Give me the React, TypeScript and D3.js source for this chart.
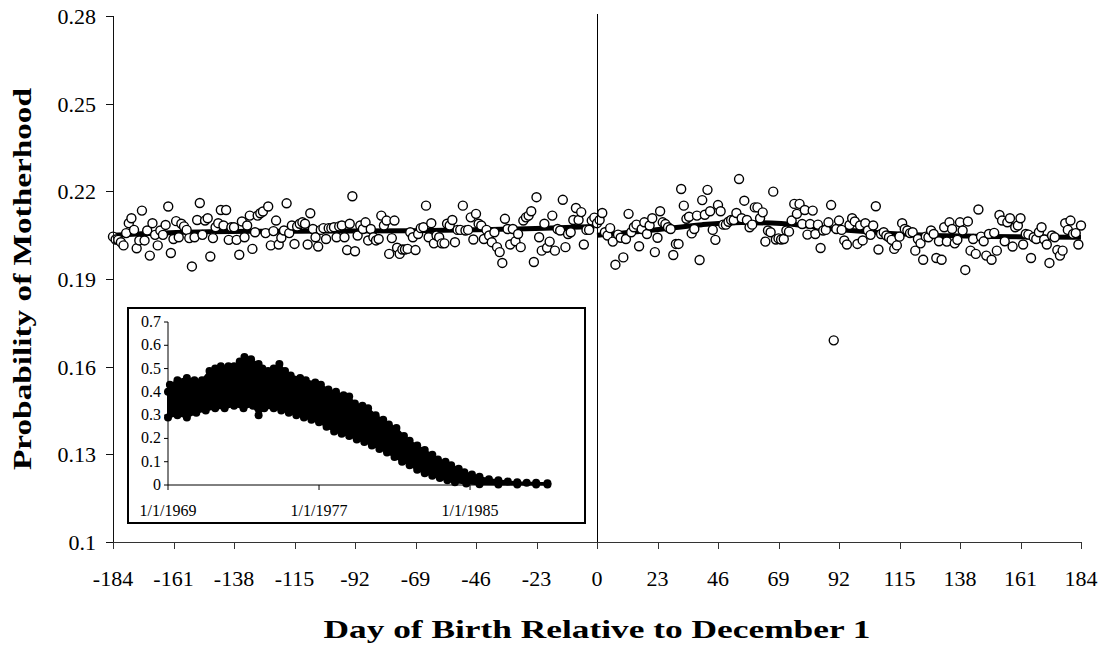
import React from "react";
import * as d3 from "d3";

// daily probability of motherhood, days -184 .. -1
const beforeValues = [
  0.2045, 0.2035,
  0.2034, 0.2026, 0.2015, 0.2057, 0.2091, 0.2108, 0.2068, 0.2005, 0.2032, 0.2134,
  0.2032, 0.2066, 0.198, 0.2091, 0.2051, 0.2015, 0.2066, 0.2051, 0.2085, 0.2148,
  0.1989, 0.2037, 0.2098, 0.2043, 0.2089, 0.208, 0.2068, 0.204, 0.1943, 0.2043,
  0.2102, 0.216, 0.2051, 0.21, 0.2108, 0.1977, 0.204, 0.2077, 0.2091, 0.2136,
  0.2083, 0.2136, 0.2034, 0.2077, 0.2077, 0.2034, 0.1983, 0.2097, 0.2043, 0.2083,
  0.2117, 0.2003, 0.206, 0.2117, 0.2125, 0.2131, 0.2057, 0.2148, 0.2015, 0.2064,
  0.21, 0.2018, 0.2041, 0.2066, 0.2159, 0.2057, 0.2083, 0.202, 0.208, 0.2089,
  0.2094, 0.2089, 0.2018, 0.2125, 0.2071, 0.2043, 0.2011, 0.2068, 0.2074, 0.2037,
  0.2074, 0.2074, 0.2077, 0.2043, 0.208, 0.2083, 0.2043, 0.1999, 0.2089, 0.2183,
  0.1995, 0.2049, 0.2083, 0.2071, 0.2094, 0.2032, 0.2071, 0.2043, 0.2032, 0.2037,
  0.2117, 0.2083, 0.21, 0.1986, 0.204, 0.21, 0.2007, 0.1986, 0.2001, 0.2001,
  0.2003, 0.206, 0.2043, 0.1999, 0.2054, 0.2074, 0.2077, 0.2151, 0.2043, 0.2091,
  0.2022, 0.2049, 0.2043, 0.2022, 0.2022, 0.2089, 0.2083, 0.2102, 0.2026, 0.2068,
  0.2068, 0.2151, 0.2066, 0.2068, 0.2111, 0.2035, 0.2123, 0.2089, 0.2083, 0.2037,
  0.2068, 0.2049, 0.2026, 0.206, 0.2009, 0.1992, 0.1955, 0.2106, 0.2071, 0.2018,
  0.2071, 0.2029, 0.2054, 0.2009, 0.21, 0.2111, 0.2117, 0.2132, 0.1958, 0.218,
  0.2043, 0.1997, 0.2089, 0.2007, 0.2028, 0.2117, 0.1997, 0.2071, 0.2066, 0.2171,
  0.2009, 0.2054, 0.206, 0.2102, 0.2143, 0.2102, 0.2129, 0.2018, 0.2068, 0.2068,
  0.21, 0.211,
];

// daily probability of motherhood, days 0 .. 184
const afterValues = [
  0.2091, 0.2102, 0.2126, 0.206, 0.2049, 0.2074, 0.2028, 0.1949, 0.2052, 0.2041,
  0.1974, 0.2037, 0.2123, 0.206, 0.2077, 0.2086, 0.2012, 0.2071, 0.2094, 0.2054,
  0.2083, 0.2108, 0.1992, 0.2041, 0.2132, 0.2094, 0.2088, 0.2077, 0.2071, 0.1982,
  0.202, 0.202, 0.2208, 0.2151, 0.2106, 0.2113, 0.2056, 0.2071, 0.2117, 0.1965,
  0.217, 0.212, 0.2205, 0.2132, 0.2068, 0.2034, 0.2153, 0.2132, 0.2086, 0.2086,
  0.2096, 0.2102, 0.2102, 0.2126, 0.2242, 0.2108, 0.2168, 0.2102, 0.2077, 0.2086,
  0.2145, 0.2145, 0.2108, 0.2128, 0.2028, 0.2066, 0.206, 0.2199, 0.2035, 0.2039,
  0.2035, 0.2037, 0.2066, 0.2062, 0.21, 0.2157, 0.2123, 0.2157, 0.2088, 0.2136,
  0.2052, 0.2088, 0.2134, 0.2054, 0.2086, 0.2006, 0.2066, 0.2068, 0.2094, 0.2153,
  0.169, 0.2071, 0.21,
  0.2068, 0.2032, 0.2018, 0.2085, 0.2108, 0.2097, 0.202, 0.2083, 0.2032, 0.2091,
  0.2066, 0.2051, 0.2083, 0.2149, 0.2001, 0.2054, 0.206, 0.2049, 0.2043, 0.2034,
  0.2003, 0.2015, 0.2045, 0.2091, 0.2071, 0.2066, 0.2057, 0.206, 0.1997, 0.2037,
  0.2022, 0.1966, 0.2045, 0.2043, 0.2066, 0.2054, 0.1972, 0.2029, 0.1966, 0.2077,
  0.2028, 0.2094, 0.2071, 0.2022, 0.2034, 0.2094, 0.2066, 0.1931, 0.2097, 0.1997,
  0.2037, 0.1986, 0.2138, 0.2045, 0.2029, 0.198, 0.2054, 0.1966, 0.2058, 0.1997,
  0.2119, 0.21, 0.2029, 0.2094, 0.2108, 0.2011, 0.2077, 0.2083, 0.2108, 0.2018,
  0.2054, 0.2052, 0.1972, 0.2043, 0.2037, 0.206, 0.2077, 0.2035, 0.2018, 0.1955,
  0.2049, 0.2043, 0.1999, 0.198, 0.1997, 0.2091, 0.2068, 0.21, 0.2054, 0.2057,
  0.2018, 0.2083,
];

// fitted lines on each side of the cutoff
const trendBeforeDays = [-184, -160, -130, -100, -70, -40, -20, -1];
const trendBeforeValues = [0.205, 0.2059, 0.2063, 0.2064, 0.2065, 0.2069, 0.2074, 0.208];
const trendAfterDays = [0, 20, 40, 55, 70, 90, 110, 140, 184];
const trendAfterValues = [0.205, 0.2066, 0.2086, 0.2093, 0.209, 0.2071, 0.2057, 0.2047, 0.2043];

const xTickValues = [-184, -161, -138, -115, -92, -69, -46, -23, 0, 23, 46, 69, 92, 115, 138, 161, 184];
const yTickValues = [0.1, 0.13, 0.16, 0.19, 0.22, 0.25, 0.28];
const yTickLabels = ["0.1", "0.13", "0.16", "0.19", "0.22", "0.25", "0.28"];

// inset: band of daily values by birth date (upper / lower edge of the cloud)
const insetUpperYears = [
  1969.0, 1969.1, 1969.5, 1970.0, 1970.4, 1970.8, 1971.2, 1971.5, 1971.8, 1972.2, 1972.5,
  1972.8, 1973.05, 1973.4, 1973.8, 1974.0, 1974.3, 1974.6, 1974.9, 1975.2, 1975.5, 1976.0,
  1976.3, 1976.8, 1977.1, 1977.5, 1977.9, 1978.3, 1978.6, 1978.9, 1979.3, 1979.6, 1980.0,
  1980.4, 1980.7, 1981.1, 1981.5, 1981.8, 1982.2, 1982.6, 1983.0, 1983.3, 1983.7, 1984.0,
  1984.4, 1984.7, 1985.1, 1985.5, 1986.0, 1986.5, 1987.0, 1987.5, 1988.0, 1988.5, 1989.1,
];
const insetUpperValues = [
  0.4, 0.43, 0.45, 0.46, 0.45, 0.45, 0.49, 0.5, 0.51, 0.51, 0.51,
  0.53, 0.55, 0.54, 0.52, 0.5, 0.49, 0.5, 0.52, 0.49, 0.47, 0.46,
  0.45, 0.44, 0.43, 0.41, 0.4, 0.385, 0.38, 0.35, 0.34, 0.33, 0.3,
  0.28, 0.26, 0.245, 0.21, 0.19, 0.17, 0.15, 0.13, 0.11, 0.1, 0.085,
  0.07, 0.055, 0.045, 0.035, 0.025, 0.02, 0.015, 0.012, 0.01, 0.01, 0.008,
];
const insetLowerYears = [
  1969.0, 1969.5, 1970.0, 1970.5, 1971.0, 1971.5, 1972.0, 1972.5, 1973.0, 1973.5, 1973.8,
  1974.1, 1974.6, 1975.0, 1975.4, 1975.8, 1976.2, 1976.6, 1977.0, 1977.4, 1977.8, 1978.2,
  1978.6, 1979.0, 1979.4, 1979.8, 1980.2, 1980.6, 1981.0, 1981.4, 1981.8, 1982.2, 1982.6,
  1983.0, 1983.4, 1983.8, 1984.2, 1984.8, 1985.5, 1986.5, 1987.5, 1988.5, 1989.1,
];
const insetLowerValues = [
  0.29, 0.3, 0.29, 0.31, 0.32, 0.33, 0.33, 0.34, 0.33, 0.34, 0.3,
  0.33, 0.33, 0.32, 0.31, 0.3, 0.29, 0.28, 0.27, 0.25, 0.23, 0.22,
  0.21, 0.195, 0.185, 0.17, 0.155, 0.14, 0.12, 0.1, 0.085, 0.065, 0.05,
  0.04, 0.03, 0.02, 0.012, 0.006, 0.003, 0.002, 0.002, 0.002, 0.002,
];
const insetYTicks = [0, 0.1, 0.2, 0.3, 0.4, 0.5, 0.6, 0.7];
const insetXTicks = [1969, 1977, 1985];
const insetXLabels = ["1/1/1969", "1/1/1977", "1/1/1985"];

const FONT = "'Liberation Serif', 'Times New Roman', serif";

export default function App() {
  const x = d3.scaleLinear().domain([-184, 184]).range([113, 1081]);
  const y = d3.scaleLinear().domain([0.1, 0.28]).range([542, 16]);

  const before = beforeValues.map((v, i) => ({ day: -184 + i, v }));
  const after = afterValues.map((v, i) => ({ day: i, v }));
  const points = before.concat(after);

  const trend = d3
    .line<[number, number]>()
    .x((d) => x(d[0]))
    .y((d) => y(d[1]))
    .curve(d3.curveMonotoneX);
  const trendBefore = trend(trendBeforeDays.map((d, i) => [d, trendBeforeValues[i]]));
  const trendAfter = trend(trendAfterDays.map((d, i) => [d, trendAfterValues[i]]));

  // inset scales
  const ix = d3.scaleLinear().domain([1969, 1989.13]).range([168, 548]);
  const iy = d3.scaleLinear().domain([0, 0.7]).range([485, 322]);
  const upper = insetUpperYears.map((t, i) => [t, insetUpperValues[i]] as [number, number]);
  const lower = insetLowerYears.map((t, i) => [t, insetLowerValues[i]] as [number, number]);
  const band = d3
    .line<[number, number]>()
    .x((d) => ix(d[0]))
    .y((d) => iy(d[1]))
    .curve(d3.curveLinearClosed)(upper.concat(lower.slice().reverse()));

  const x0 = Math.round(x(0)) + 0.5;

  return (
    <svg
      width={1107}
      height={648}
      style={{ position: "absolute", left: 0, top: 0, background: "#fff" }}
      fontFamily={FONT}
    >
      {/* fitted lines */}
      <path d={trendBefore || ""} fill="none" stroke="#000" strokeWidth={5} />
      <path d={trendAfter || ""} fill="none" stroke="#000" strokeWidth={5} />

      {/* scatter */}
      {points.map((p, i) => (
        <circle key={i} cx={x(p.day)} cy={y(p.v)} r={4.5} fill="#fff" stroke="#000" strokeWidth={1.4} />
      ))}

      {/* cutoff line */}
      <line x1={x0} x2={x0} y1={y(0.28) - 2} y2={549} stroke="#000" strokeWidth={1} />

      {/* y axis */}
      <line x1={113.5} x2={113.5} y1={y(0.28)} y2={542} stroke="#111" strokeWidth={1} />
      {yTickValues.map((t, i) => (
        <g key={t}>
          <line x1={106} x2={113} y1={Math.round(y(t)) + 0.5} y2={Math.round(y(t)) + 0.5} stroke="#111" strokeWidth={1} />
          <text x={96} y={y(t) + 8} textAnchor="end" fontSize={22} fill="#000">
            {yTickLabels[i]}
          </text>
        </g>
      ))}

      {/* x axis */}
      <line x1={113} x2={1081} y1={542.5} y2={542.5} stroke="#333" strokeWidth={1} />
      {xTickValues.map((t) => (
        <g key={t}>
          <line x1={Math.round(x(t)) + 0.5} x2={Math.round(x(t)) + 0.5} y1={542} y2={549} stroke="#333" strokeWidth={1} />
          <text x={x(t)} y={586} textAnchor="middle" fontSize={22} fill="#000">
            {t}
          </text>
        </g>
      ))}

      {/* axis titles */}
      <text
        x={597}
        y={638}
        textAnchor="middle"
        fontSize={25}
        fontWeight="bold"
        textLength={547}
        lengthAdjust="spacingAndGlyphs"
      >
        Day of Birth Relative to December 1
      </text>
      <text
        transform="translate(31,279) rotate(-90)"
        textAnchor="middle"
        fontSize={25}
        fontWeight="bold"
        textLength={382}
        lengthAdjust="spacingAndGlyphs"
      >
        Probability of Motherhood
      </text>

      {/* inset */}
      <rect x={128} y={308} width={457} height={215} fill="#fff" stroke="#000" strokeWidth={2} />
      <path d={band || ""} fill="#000" stroke="#000" strokeWidth={2} strokeLinejoin="round" />
      {upper.concat(lower).map((d, i) => (
        <circle key={"b" + i} cx={ix(d[0])} cy={iy(d[1])} r={4} fill="#000" />
      ))}
      <line x1={168} x2={168} y1={iy(0.7)} y2={iy(0)} stroke="#000" strokeWidth={1} />
      {insetYTicks.map((t) => (
        <g key={"iy" + t}>
          <line x1={164} x2={168} y1={iy(t)} y2={iy(t)} stroke="#000" strokeWidth={1} />
          <text x={161} y={iy(t) + 5} textAnchor="end" fontSize={16}>
            {String(t)}
          </text>
        </g>
      ))}
      <line x1={168} x2={548} y1={iy(0)} y2={iy(0)} stroke="#000" strokeWidth={1} />
      {insetXTicks.map((t, i) => (
        <g key={"ix" + t}>
          <line x1={ix(t)} x2={ix(t)} y1={iy(0)} y2={iy(0) + 5} stroke="#000" strokeWidth={1} />
          <text x={ix(t)} y={516} textAnchor="middle" fontSize={16}>
            {insetXLabels[i]}
          </text>
        </g>
      ))}
    </svg>
  );
}
